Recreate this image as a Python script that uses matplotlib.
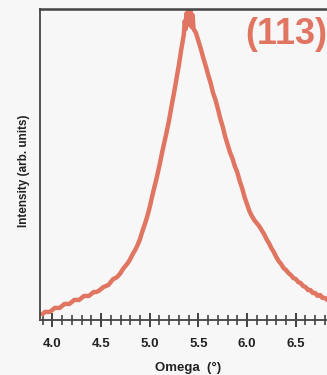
import matplotlib
matplotlib.use("Agg")
import matplotlib.pyplot as plt
from matplotlib.ticker import MultipleLocator

omega = [3.900, 3.925, 3.950, 3.975, 4.000, 4.025, 4.050, 4.075, 4.100, 4.125, 4.150, 4.175,
         4.200, 4.225, 4.250, 4.275, 4.300, 4.325, 4.350, 4.375, 4.400, 4.425, 4.450, 4.475,
         4.500, 4.525, 4.550, 4.575, 4.600, 4.625, 4.650, 4.675, 4.700, 4.725, 4.750, 4.775,
         4.800, 4.825, 4.850, 4.875, 4.900, 4.925, 4.950, 4.975, 5.000, 5.025, 5.050, 5.075,
         5.100, 5.125, 5.150, 5.175, 5.200, 5.225, 5.250, 5.275, 5.300, 5.325, 5.350,
         5.360, 5.370, 5.380, 5.390, 5.400, 5.410, 5.420, 5.430, 5.440, 5.450, 5.475,
         5.500, 5.525, 5.550, 5.575, 5.600, 5.625, 5.650, 5.675, 5.700, 5.725, 5.750, 5.775,
         5.800, 5.825, 5.850, 5.875, 5.900, 5.925, 5.950, 5.975, 6.000, 6.025, 6.050, 6.075,
         6.100, 6.125, 6.150, 6.175, 6.200, 6.225, 6.250, 6.275, 6.300, 6.325, 6.350, 6.375,
         6.400, 6.425, 6.450, 6.475, 6.500, 6.525, 6.550, 6.575, 6.600, 6.625, 6.650, 6.675,
         6.700, 6.725, 6.750, 6.775, 6.800, 6.825, 6.850, 6.875, 6.900]
intensity = [6, 8, 8, 8, 10, 12, 12, 12, 14, 16, 16, 16,
             18, 20, 20, 20, 22, 24, 24, 24, 26, 28, 28, 29,
             31, 33, 34, 35, 38, 41, 42, 44, 47, 51, 54, 57,
             61, 66, 70, 75, 81, 89, 96, 104, 113, 124, 134, 144,
             155, 167, 178, 189, 201, 215, 228, 242, 256, 272, 286,
             300, 292, 308, 296, 312, 298, 310, 294, 306, 292, 288,
             280, 272, 263, 255, 246, 238, 228, 221, 212, 202, 194, 184,
             176, 168, 162, 154, 148, 139, 132, 123, 116, 109, 104, 100,
             97, 94, 90, 86, 81, 77, 72, 68, 63, 59, 56, 52,
             50, 47, 45, 42, 41, 38, 37, 34, 33, 30, 30, 27,
             27, 24, 25, 22, 22, 20, 20, 18, 18]

xticks = [4.0, 4.5, 5.0, 5.5, 6.0, 6.5]
xticklabels = ["4.0", "4.5", "5.0", "5.5", "6.0", "6.5"]

bg = "#f7f7f7"
col = "#e07562"

fig = plt.figure(figsize=(3.27, 3.75), dpi=100, facecolor=bg)
ax = fig.add_axes([0.1223, 0.147, 0.931, 0.829], facecolor=bg)
ax.plot(omega, intensity, color=col, lw=3.2, solid_joinstyle="round")
ax.set_xlim(3.873, 7.0)
ax.set_ylim(0, 312)

for s in ["top", "bottom", "left", "right"]:
    ax.spines[s].set_color("#444444")
ax.spines["top"].set_linewidth(1.8)
ax.spines["left"].set_linewidth(1.3)
ax.spines["bottom"].set_linewidth(1.3)

ax.set_yticks([])
ax.set_xticks(xticks)
ax.set_xticklabels(xticklabels, fontsize=9.5, fontweight="bold", family="Liberation Sans", color="#222222")
ax.xaxis.set_minor_locator(MultipleLocator(0.1))
ax.tick_params(axis="x", which="major", direction="inout", length=10.5, width=1.3, color="#333333", pad=7.5)
ax.tick_params(axis="x", which="minor", direction="inout", length=7, width=1.1, color="#333333")

ax.set_xlabel("Omega  (°)", fontsize=9.5, fontweight="bold", family="Liberation Sans", color="#222222")
ax.set_ylabel("Intensity (arb. units)", fontsize=8.5, fontweight="bold", family="Liberation Sans", color="#222222")
ax.xaxis.set_label_coords(0.485, -0.135)
ax.yaxis.set_label_coords(-0.032, 0.48)

ax.text(0.675, 0.917, "(113)", transform=ax.transAxes, ha="left", va="center",
        fontsize=26, fontweight="bold", family="Liberation Sans", color=col)

fig.savefig("out.png", dpi=100, facecolor=bg)
